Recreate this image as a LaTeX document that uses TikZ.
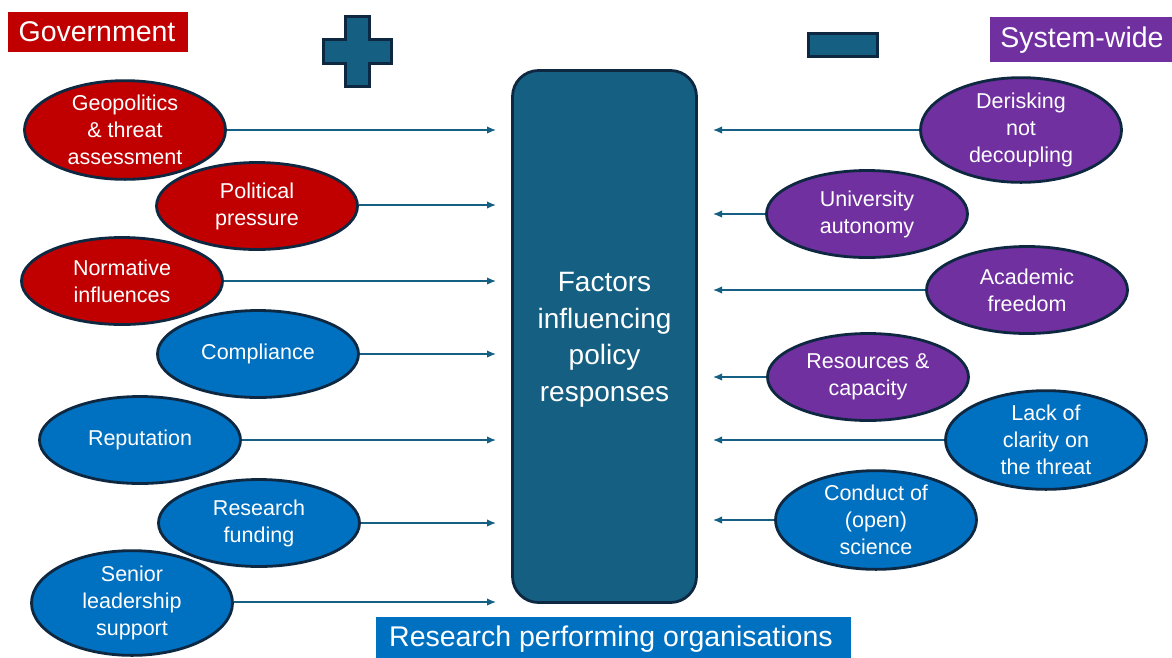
\documentclass[tikz,border=0pt]{standalone}
\usepackage{fontspec}
\setmainfont{Liberation Sans}
\usetikzlibrary{shapes.geometric,arrows.meta}
\definecolor{govred}{HTML}{C00000}
\definecolor{syspurple}{HTML}{7030A0}
\definecolor{rpoblue}{HTML}{0070C0}
\definecolor{teal}{HTML}{156082}
\definecolor{navy}{HTML}{0E2841}
\tikzset{
  factor/.style={ellipse, draw=navy, line width=2.8pt, minimum width=201pt, minimum height=87pt,
     inner sep=0pt, text=white, align=center, font=\fontsize{21.5}{27}\selectfont},
  gov/.style={factor, fill=govred},
  sys/.style={factor, fill=syspurple},
  rpo/.style={factor, fill=rpoblue},
  label/.style={text=white, inner sep=0pt, font=\fontsize{28.5}{30}\selectfont},
  arr/.style={draw=teal, line width=1.4pt, -{Latex[length=9pt,width=7.5pt]}},
}
\begin{document}
\begin{tikzpicture}[x=1pt,y=-1pt]
\useasboundingbox (0,0) rectangle (1172,657);
% category labels
\fill[govred] (8,12) rectangle (188,52);
\node[label] (govlbl) at (97,32) {Government};
\fill[syspurple] (990,17) rectangle (1172,62);
\node[label] (syslbl) at (1082,40) {System-wide};
\fill[rpoblue] (376,617) rectangle (851,660);
\node[label] (rpolbl) at (611,639) {Research performing organisations};
% plus and minus
\draw[fill=teal, draw=navy, line width=3pt]
  (345,16) -- (369,16) -- (369,39) -- (391,39) -- (391,63) -- (369,63) -- (369,86)
  -- (345,86) -- (345,63) -- (323,63) -- (323,39) -- (345,39) -- cycle;
\draw[fill=teal, draw=navy, line width=3pt] (808,33) rectangle (877,56);
% central box
\node[draw=navy, fill=teal, line width=2.8pt, rounded corners=26pt,
  minimum width=184pt, minimum height=532pt] (core) at (604.5,336.5) {};
\node[text=white, align=center, font=\fontsize{28}{36.5}\selectfont] (coretxt)
  at (604.5,340) {Factors\\influencing\\policy\\responses};
% left factors
\node[gov] (geo) at (125,130) {Geopolitics\\\&\ threat\\assessment};
\node[gov] (pol) at (257,206) {Political\\pressure};
\node[gov] (nor) at (122,281) {Normative\\influences};
\node[rpo] (com) at (258,354) {Compliance};
\node[rpo] (rep) at (140,440) {Reputation};
\node[rpo] (fun) at (259,523) {Research\\funding};
\node[rpo] (sen) at (132,603) {Senior\\leadership\\support};
% right factors
\node[sys] (der) at (1021,130) {Derisking\\not\\decoupling};
\node[sys] (uni) at (867,214) {University\\autonomy};
\node[sys] (aca) at (1027,290) {Academic\\freedom};
\node[sys] (res) at (868,377) {Resources \&\\capacity};
\node[rpo] (lac) at (1046,440) {Lack of\\clarity on\\the threat};
\node[rpo] (con) at (876,520) {Conduct of\\(open)\\science};
% arrows
\foreach \n/\y in {geo/130, pol/205, nor/281, com/354, rep/440, fun/523, sen/602}{
  \coordinate (L\n) at (496,\y);
  \draw[arr] (\n.east |- L\n) -- (L\n);
}
\foreach \n/\y in {der/130, uni/214, aca/290, res/377, lac/440, con/520}{
  \coordinate (R\n) at (713,\y);
  \draw[arr] (\n.west |- R\n) -- (R\n);
}
\end{tikzpicture}
\end{document}
